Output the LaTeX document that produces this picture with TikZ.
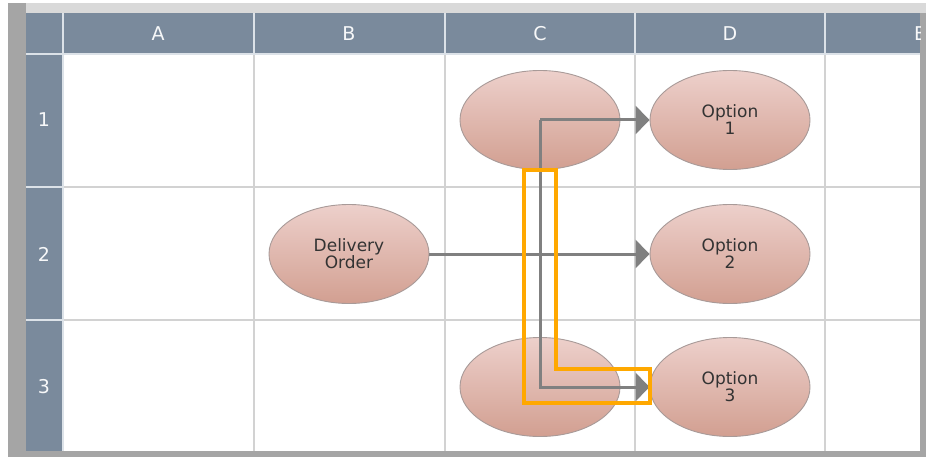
\documentclass[tikz,border=0pt]{standalone}
\usepackage{fontspec}
\setmainfont{DejaVu Sans}
\usetikzlibrary{arrows.meta,shapes.geometric}
\definecolor{hdrblue}{HTML}{7A8A9C}
\definecolor{hdrline}{HTML}{DCE2E8}
\definecolor{gridgray}{HTML}{D2D2D2}
\definecolor{framegray}{HTML}{A5A5A5}
\definecolor{shadegray}{HTML}{D9D9D9}
\definecolor{conngray}{HTML}{808080}
\definecolor{hiorange}{HTML}{FFA800}
\definecolor{ovaltop}{HTML}{EDD0CB}
\definecolor{ovalbot}{HTML}{D29F91}
\definecolor{ovalline}{HTML}{A89A98}

\begin{document}
\begin{tikzpicture}[x=1pt,y=-1pt,
  oval/.style={ellipse, draw=ovalline, line width=0.9pt, top color=ovaltop, bottom color=ovalbot, minimum width=160pt, minimum height=99pt, inner sep=0pt, align=center, font=\fontsize{17}{17}\selectfont, text=black!80},
  hdr/.style={text=white!94!hdrblue, font=\fontsize{19}{19}\selectfont},
  grid/.style={draw=gridgray, line width=1.5pt},
  arr/.style={-{Triangle[length=14pt,width=28pt]}, line width=3pt, conngray},
  hilite/.style={draw=hiorange, line width=3.5pt}
]
\useasboundingbox (0,0) rectangle (926,457);
% frame and sheet
\fill[white] (0,0) rectangle (926,457);
\fill[framegray] (8,3) rectangle (926,457);
\fill[shadegray] (26,3) rectangle (926,13);
\fill[white] (26,13) rectangle (920,451);
\begin{scope}
\clip (26,13) rectangle (920,451);
% headers
\fill[hdrblue] (26,13) rectangle (920,54);
\fill[hdrblue] (26,13) rectangle (63,451);
\foreach \x in {254,445,635,825}
  \draw[grid] (\x,54) -- (\x,451);
\foreach \y in {187,320}
  \draw[grid] (63,\y) -- (920,\y);
\foreach \x in {63,254,445,635,825}
  \draw[hdrline, line width=1.5pt] (\x,13) -- (\x,54);
\draw[hdrline, line width=1.5pt] (26,54) -- (920,54);
\foreach \y in {187,320}
  \draw[hdrline, line width=1.5pt] (26,\y) -- (63,\y);
\draw[hdrline, line width=1.5pt] (63,54) -- (63,451);
\foreach \l/\x in {A/158,B/349,C/540,D/730,E/920}
  \node[hdr] (h\l) at (\x,34) {\l};
\end{scope}
\foreach \n/\y in {1/120,2/254,3/387}
  \node[hdr] (r\n) at (44,\y) {\n};
% shapes
\node[oval] (c1) at (540,120) {};
\node[oval] (d1) at (730,120) {Option\\1};
\node[oval] (b2) at (349,254) {Delivery\\Order};
\node[oval] (d2) at (730,254) {Option\\2};
\node[oval] (c3) at (540,387) {};
\node[oval] (d3) at (730,387) {Option\\3};
% connectors
\draw[arr] (c1.center) -- (d1);
\draw[arr] (c1.center) |- (d3);
\draw[arr] (b2) -- (d2);
% highlight
\draw[hilite] (524,170) -- (524,403) -- (650,403) -- (650,369) -- (556,369) -- (556,170) -- cycle;
\end{tikzpicture}
\end{document}
